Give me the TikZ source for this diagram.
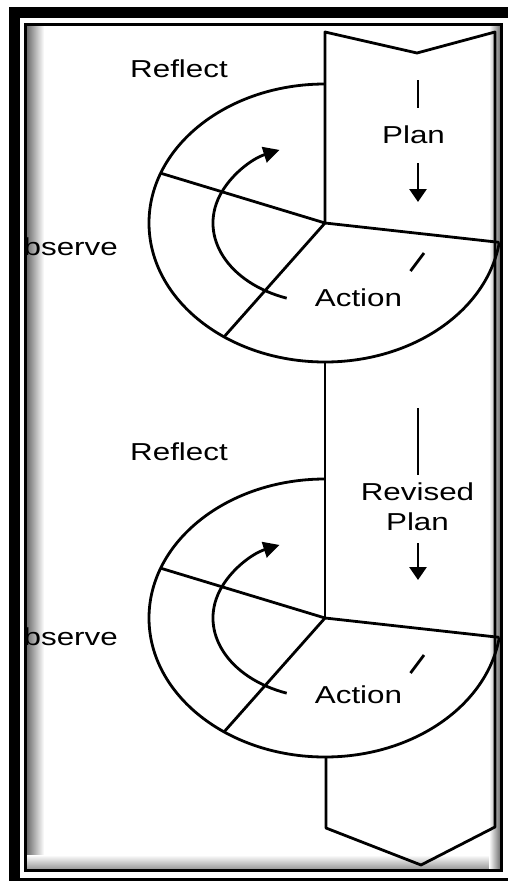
\documentclass[tikz,border=0pt]{standalone}
\usepackage{fontspec}
\newfontfamily\lblfont[FakeStretch=1.28]{Liberation Sans}
\usetikzlibrary{arrows.meta}
\tikzset{
  >={Triangle[length=13pt,width=17pt]},
  ln/.style={line width=2.8pt, line join=round},
  lbl/.style={font=\lblfont\fontsize{24.5}{29}\selectfont, inner sep=0pt, anchor=base},
  turn/.style={ln, -{Triangle[length=16pt,width=16pt]}},
}

\begin{document}
\begin{tikzpicture}[x=1pt, y=-1pt]
  \useasboundingbox (0,0) rectangle (508,881);
  % soft shadow inside the frame
  \shade[left color=black!60, right color=white] (26,25) rectangle (44,869);
  \shade[top color=white, bottom color=black!40] (26,855) rectangle (500,869);
  \shade[left color=white, right color=black!55] (489,25) rectangle (500,869);

  % the two turns of the spiral
  \foreach \i/\cy in {1/223, 2/618} {
    \coordinate (c\i) at (325,\cy);
    \coordinate (t\i) at (325,{\cy-139});
    \draw[ln] (t\i) arc[start angle=270, end angle=8, x radius=176, y radius=139] coordinate (r\i);
    \path (c\i) ++(201:176 and 139) coordinate (ul\i)
          (c\i) ++(125:176 and 139) coordinate (ll\i)
          (c\i) ++(110:112 and 80) coordinate (s\i);
    \draw[ln] (ul\i) -- (c\i) -- (r\i) (c\i) -- (ll\i);
    \draw[turn] (s\i) arc[start angle=110, end angle=246, x radius=112, y radius=80];
  }

  % plan column
  \draw[ln] (c1) -- (325,32) -- (417,53) -- (495,32) -- (495,827)
    -- (421,865) -- (326,828) -- (326,757);
  \draw[ln] (325,362) -- (c2);

  \node[lbl] (plan1) at (413.5,143) {Plan};
  \draw[ln] (418,80) -- (418,108);
  \draw[ln,->] (418,163) -- (418,202);
  \draw[ln] (410.5,271) -- (424,253);

  \node[lbl] (rev) at (417.5,500) {Revised};
  \node[lbl] (plan2) at (417.5,530) {Plan};
  \draw[ln] (418,408) -- (418,475);
  \draw[ln,->] (418,543) -- (418,580);
  \draw[ln] (410.5,673) -- (424,655);

  % labels
  \node[lbl] (refl1) at (179,77) {Reflect};
  \node[lbl] (act1) at (358.5,306) {Action};
  \node[lbl] (refl2) at (179,460) {Reflect};
  \node[lbl] (act2) at (358.5,703) {Action};
  \begin{scope}
    \clip (27,0) rectangle (508,881);
    \node[lbl, anchor=base east] (obs1) at (118,255) {Observe};
    \node[lbl, anchor=base east] (obs2) at (118,645) {Observe};
  \end{scope}

  % frames
  \draw[line width=3pt] (25.5,24) rectangle (501,870.5);
  \draw[line width=11pt] (14,12) rectangle (516,883);
\end{tikzpicture}
\end{document}
